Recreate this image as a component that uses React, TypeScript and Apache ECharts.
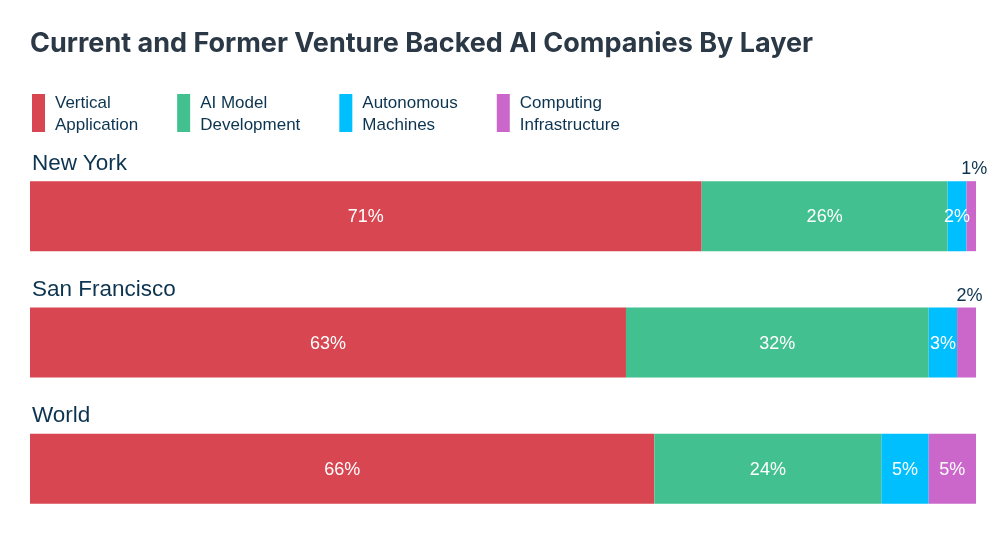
import React, { useEffect, useRef } from "react";
import * as echarts from "echarts";

const categories = ["New York", "San Francisco", "World"];
const seriesNames = ["Vertical Application", "AI Model Development", "Autonomous Machines", "Computing Infrastructure"];
const legendLabels = ["Vertical\nApplication", "AI Model\nDevelopment", "Autonomous\nMachines", "Computing\nInfrastructure"];
const verticalApplication = [71, 63, 66];
const aiModelDevelopment = [26, 32, 24];
const autonomousMachines = [2, 3, 5];
const computingInfrastructure = [1, 2, 5];
const colors = ["#d84751", "#43c08f", "#00bfff", "#cb67cb"];

const FONT = "'Liberation Sans', Arial, sans-serif";
const NAVY = "#0c3450";

export default function App() {
  const ref = useRef<HTMLDivElement>(null);
  useEffect(() => {
    if (!ref.current) return;
    const chart = echarts.init(ref.current, undefined, { renderer: "svg" });
    const values = [verticalApplication, aiModelDevelopment, autonomousMachines, computingInfrastructure];
    const series = values.map((arr, i) => ({
      name: seriesNames[i],
      type: "bar",
      stack: "total",
      barWidth: 70,
      itemStyle: { color: colors[i] },
      label: {
        show: true,
        position: "inside",
        color: "#ffffff",
        fontSize: 18,
        fontFamily: FONT,
        formatter: (p: any) => `${p.value}%`,
      },
      data: arr.map((v) =>
        i === 3 && v < 3
          ? { value: v, label: { position: "top", color: NAVY, distance: 4, offset: [3, 0], fontSize: 18 } }
          : v
      ),
    }));
    chart.setOption({
      animation: false,
      title: {
        text: "Current and Former Venture Backed AI Companies By Layer",
        left: 30,
        top: 29,
        padding: 0,
        textStyle: { fontFamily: "Inter, sans-serif", fontWeight: "bold", fontSize: 27, color: "#2b3846" },
      },
      legend: {
        left: 32,
        top: 91,
        padding: 0,
        itemWidth: 13,
        itemHeight: 38,
        itemGap: 39,
        icon: "rect",
        selectedMode: false,
        data: seriesNames,
        formatter: (name: string) => legendLabels[seriesNames.indexOf(name)],
        textStyle: { fontFamily: FONT, fontSize: 17, lineHeight: 22, color: NAVY, padding: [0, 0, 0, 5] },
      },
      grid: { left: 30, right: 31, top: 153, height: 379, containLabel: false },
      xAxis: { type: "value", min: 0, max: 100, show: false },
      yAxis: {
        type: "category",
        inverse: true,
        data: categories,
        axisLine: { show: false },
        axisTick: { show: false },
        axisLabel: {
          inside: true,
          margin: 2,
          align: "left",
          verticalAlign: "bottom",
          lineHeight: 22,
          padding: [0, 0, 43, 0],
          fontSize: 22.5,
          fontFamily: FONT,
          color: NAVY,
        },
      },
      series,
    });
    return () => chart.dispose();
  }, []);
  return <div ref={ref} style={{ position: "fixed", left: 0, top: 0, width: 1007, height: 535 }} />;
}
